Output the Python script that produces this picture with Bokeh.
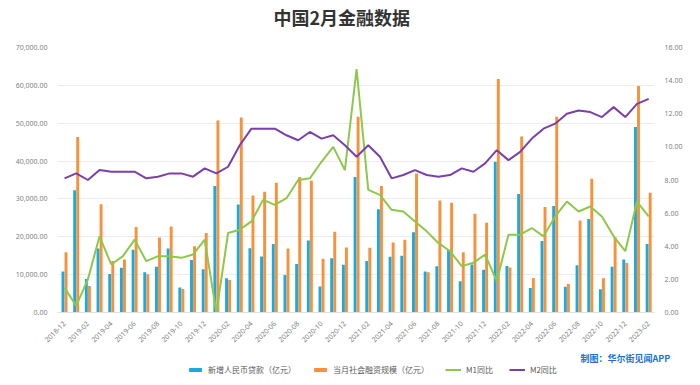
import math
from bokeh.plotting import figure
from bokeh.layouts import column
from bokeh.models import (Range1d, LinearAxis, FixedTicker, NumeralTickFormatter,
                          Legend, LegendItem, Title, ColumnDataSource)
from bokeh.core.properties import value
from bokeh.transform import dodge
from bokeh.embed import file_html
from bokeh.resources import INLINE

months = ["2018-12",
          "2019-01", "2019-02", "2019-03", "2019-04", "2019-05", "2019-06",
          "2019-07", "2019-08", "2019-09", "2019-10", "2019-11", "2019-12",
          "2020-01", "2020-02", "2020-03", "2020-04", "2020-05", "2020-06",
          "2020-07", "2020-08", "2020-09", "2020-10", "2020-11", "2020-12",
          "2021-01", "2021-02", "2021-03", "2021-04", "2021-05", "2021-06",
          "2021-07", "2021-08", "2021-09", "2021-10", "2021-11", "2021-12",
          "2022-01", "2022-02", "2022-03", "2022-04", "2022-05", "2022-06",
          "2022-07", "2022-08", "2022-09", "2022-10", "2022-11", "2022-12",
          "2023-01", "2023-02"]

new_loans = [10800,
             32300, 8858, 16900, 10200, 11800, 16600,
             10600, 12100, 16900, 6613, 13900, 11400,
             33400, 9057, 28500, 17000, 14800, 18100,
             9927, 12800, 19000, 6898, 14300, 12600,
             35800, 13600, 27300, 14700, 15000, 21200,
             10800, 12200, 16600, 8262, 12700, 11300,
             39800, 12300, 31300, 6454, 18900, 28100,
             6790, 12500, 24700, 6152, 12100, 14000,
             49000, 18100]

tsf = [15898,
       46353, 7030, 28600, 13600, 14000, 22600,
       10100, 19800, 22700, 6189, 17500, 21000,
       50700, 8554, 51500, 30900, 31900, 34300,
       16900, 35800, 34800, 14200, 21300, 17200,
       51700, 17100, 33400, 18500, 19200, 36700,
       10600, 29600, 29000, 15900, 26100, 23700,
       61700, 11900, 46500, 9102, 27900, 51700,
       7561, 24300, 35300, 9079, 19900, 13100,
       59800, 31600]

m1 = [1.5,
      0.4, 2.0, 4.6, 2.9, 3.4, 4.4,
      3.1, 3.4, 3.4, 3.3, 3.5, 4.4,
      0.0, 4.8, 5.0, 5.5, 6.8, 6.5,
      6.9, 8.0, 8.1, 9.1, 10.0, 8.6,
      14.7, 7.4, 7.1, 6.2, 6.1, 5.5,
      4.9, 4.2, 3.7, 2.8, 3.0, 3.5,
      1.9, 4.7, 4.7, 5.1, 4.6, 5.8,
      6.7, 6.1, 6.4, 5.8, 4.6, 3.7,
      6.7, 5.8]

m2 = [8.1,
      8.4, 8.0, 8.6, 8.5, 8.5, 8.5,
      8.1, 8.2, 8.4, 8.4, 8.2, 8.7,
      8.4, 8.8, 10.1, 11.1, 11.1, 11.1,
      10.7, 10.4, 10.9, 10.5, 10.7, 10.1,
      9.4, 10.1, 9.4, 8.1, 8.3, 8.6,
      8.3, 8.2, 8.3, 8.7, 8.5, 9.0,
      9.8, 9.2, 9.7, 10.5, 11.1, 11.4,
      12.0, 12.2, 12.1, 11.8, 12.4, 11.8,
      12.6, 12.9]

left_ticks = [0, 10000, 20000, 30000, 40000, 50000, 60000, 70000]
right_ticks = [0, 2, 4, 6, 8, 10, 12, 14, 16]

title_text = "中国2月金融数据"
series_names = ["新增人民币贷款（亿元）", "当月社会融资规模（亿元）", "M1同比", "M2同比"]
credit_text = "制图：华尔街见闻APP"

BLUE = "#1AAAE2"
ORANGE = "#F7923A"
GREEN = "#8DC84A"
PURPLE = "#7B3FAB"
TICK = "#7f7f7f"
FW = 597          # frame width shared by the three stacked figures
BL, BR = 57, 30   # left / right borders

idx = list(range(len(months)))
src = ColumnDataSource(dict(x=idx, loans=new_loans, tsf=tsf, m1=m1, m2=m2))

# ---------- header with title ----------
header = figure(frame_width=FW, frame_height=34, output_backend="svg", toolbar_location=None,
                x_range=Range1d(0, FW), y_range=Range1d(0, 34),
                min_border_left=BL, min_border_right=BR, min_border_top=0, min_border_bottom=0,
                x_axis_type=None, y_axis_type=None)
header.outline_line_color = None
header.grid.visible = False
header.text(x=[216], y=[18], text=[title_text], text_font=value("Noto Sans CJK SC"),
            text_font_size="18px", text_font_style="bold", text_color="#333333",
            text_baseline="middle", text_align="left")

# ---------- main chart ----------
chart = figure(frame_width=FW, frame_height=265, output_backend="svg", toolbar_location=None,
               x_range=Range1d(-0.6, 50.5), y_range=Range1d(0, 70000),
               min_border_left=BL, min_border_right=BR, min_border_top=13,
               min_border_bottom=30)
chart.outline_line_color = None
chart.background_fill_color = "white"
chart.border_fill_color = "white"
chart.extra_y_ranges = {"right": Range1d(0, 16)}

chart.vbar(x=dodge("x", -0.13), top="loans", width=0.25, source=src,
           fill_color=BLUE, line_color=None)
chart.vbar(x=dodge("x", 0.13), top="tsf", width=0.25, source=src,
           fill_color=ORANGE, line_color=None)
chart.line(x="x", y="m1", source=src, y_range_name="right",
           line_color=GREEN, line_width=2)
chart.line(x="x", y="m2", source=src, y_range_name="right",
           line_color=PURPLE, line_width=2)

xa = chart.xaxis[0]
xa.ticker = FixedTicker(ticks=idx[::2])
xa.major_label_overrides = {i: months[i] for i in idx[::2]}
xa.major_label_orientation = math.pi / 4
xa.major_label_text_font_size = "7px"
xa.major_label_text_color = TICK
xa.major_label_text_font = "Noto Sans"
xa.axis_line_color = "#e0e0e0"
xa.major_tick_line_color = None
xa.minor_tick_line_color = None
xa.major_label_standoff = 4

ya = chart.yaxis[0]
ya.ticker = FixedTicker(ticks=left_ticks)
ya.formatter = NumeralTickFormatter(format="0,0.00")
ya.major_label_text_font_size = "7px"
ya.major_label_text_color = TICK
ya.major_label_text_font = "Noto Sans"
ya.axis_line_color = None
ya.major_tick_line_color = None
ya.minor_tick_line_color = None
ya.major_label_standoff = 4

ra = LinearAxis(y_range_name="right", ticker=FixedTicker(ticks=right_ticks),
                formatter=NumeralTickFormatter(format="0.00"))
ra.major_label_text_font_size = "7px"
ra.major_label_text_color = TICK
ra.major_label_text_font = "Noto Sans"
ra.axis_line_color = None
ra.major_tick_line_color = None
ra.minor_tick_line_color = None
ra.major_label_standoff = 4
chart.add_layout(ra, "right")

chart.xgrid.grid_line_color = None
chart.ygrid.ticker = FixedTicker(ticks=left_ticks)
chart.ygrid.grid_line_color = "#ececec"
chart.ygrid.grid_line_width = 1

# ---------- footer with legend and credit ----------
foot = figure(frame_width=FW, frame_height=12, output_backend="svg", toolbar_location=None,
              x_range=Range1d(0, FW), y_range=Range1d(0, 12),
              min_border_left=BL, min_border_right=BR, min_border_top=17, min_border_bottom=6,
              x_axis_type=None, y_axis_type=None)
foot.outline_line_color = None
foot.grid.visible = False
# legend proxies (zero-size, nothing visible)
k_loans = foot.vbar(x=[0], top=[0], width=0, fill_color=BLUE, line_color=None)
k_tsf = foot.vbar(x=[0], top=[0], width=0, fill_color=ORANGE, line_color=None)
k_m1 = foot.line(x=[0, 0], y=[0, 0], line_color=GREEN, line_width=2)
k_m2 = foot.line(x=[0, 0], y=[0, 0], line_color=PURPLE, line_width=2)

legend = Legend(items=[
    LegendItem(label=series_names[0], renderers=[k_loans]),
    LegendItem(label=series_names[1], renderers=[k_tsf]),
    LegendItem(label=series_names[2], renderers=[k_m1]),
    LegendItem(label=series_names[3], renderers=[k_m2]),
], orientation="horizontal", location=(130, 1))
legend.label_text_font = "Noto Sans CJK SC"
legend.label_text_font_size = "8px"
legend.label_text_color = "#595959"
legend.glyph_width = 16
legend.glyph_height = 5
legend.label_standoff = 5
legend.spacing = 16
legend.padding = 0
legend.margin = 0
legend.border_line_color = None
legend.background_fill_alpha = 0
legend.label_height = 10
foot.add_layout(legend)

credit = Title(text=credit_text, align="left", offset=523,
               text_font="Noto Sans CJK SC", text_font_size="9px",
               text_font_style="bold", text_color="#1F6FD0", standoff=0)
foot.add_layout(credit, "above")

p = column(header, chart, foot, spacing=0)

open("out.html", "w").write(file_html(p, INLINE))
